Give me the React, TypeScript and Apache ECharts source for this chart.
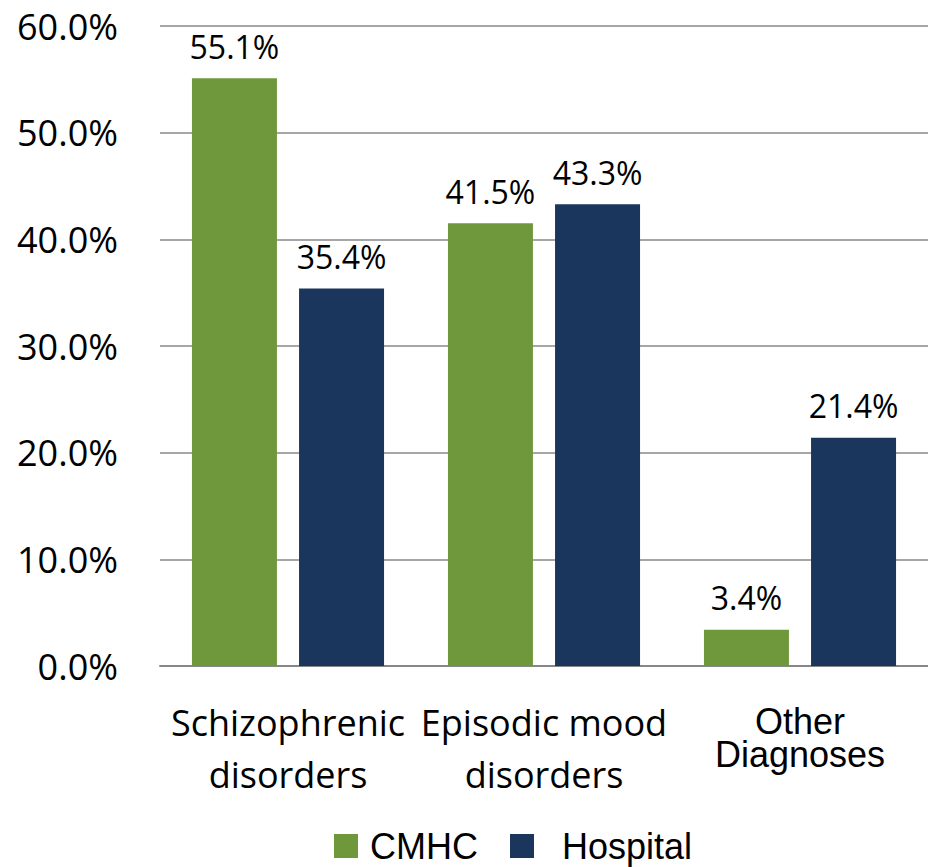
import React, { useEffect, useRef } from "react";
import * as echarts from "echarts";

const categories = ["Schizophrenic disorders", "Episodic mood disorders", "Other Diagnoses"];
const cmhcValues = [55.1, 41.5, 3.4];
const hospitalValues = [35.4, 43.3, 21.4];
const seriesNames = ["CMHC", "Hospital"];
const yTicks = { min: 0, max: 60, interval: 10 };

const GREEN = "#6f973b";
const NAVY = "#1a365c";
const CAL = "'Open Sans', 'Noto Sans', sans-serif";
const ARIAL = "'Liberation Sans', Arial, sans-serif";

export default function App() {
  const ref = useRef<HTMLDivElement>(null);
  useEffect(() => {
    if (!ref.current) return;
    const chart = echarts.init(ref.current, null, { renderer: "svg" });
    const labelStyle = {
      show: true,
      position: "top",
      distance: 16,
      fontFamily: CAL,
      fontSize: 32,
      color: "#000",
      formatter: (p: any) => p.value.toFixed(1) + "%",
    };
    chart.setOption({
      animation: false,
      backgroundColor: "#fff",
      grid: { left: 160, right: 0, top: 26, bottom: 201, containLabel: false },
      legend: {
        left: 334,
        top: 828,
        padding: 0,
        itemWidth: 24,
        itemHeight: 24,
        itemGap: 32,
        icon: "rect",
        data: seriesNames,
        formatter: (name: string) => (name === "CMHC" ? "{c|" + name + "}" : "{h|" + name + "}"),
        textStyle: {
          fontFamily: ARIAL,
          fontSize: 36,
          color: "#000",
          rich: {
            c: { fontFamily: ARIAL, fontSize: 36, color: "#000", padding: [0, 0, 0, 7] },
            h: { fontFamily: ARIAL, fontSize: 36, color: "#000", padding: [0, 0, 0, 23] },
          },
        },
      },
      xAxis: {
        type: "category",
        data: categories,
        axisLine: { show: true, lineStyle: { color: "#878787", width: 2 } },
        axisTick: { show: false },
        axisLabel: {
          margin: 30,
          interval: 0,
          formatter: (v: string) => {
            if (v === "Other Diagnoses") return "{e| }\n{o|Other}\n{o|Diagnoses}";
            const i = v.lastIndexOf(" ");
            return "{a|" + v.slice(0, i) + "}\n{a|" + v.slice(i + 1) + "}";
          },
          rich: {
            a: { fontFamily: CAL, fontSize: 36, lineHeight: 52, color: "#000" },
            e: { fontFamily: ARIAL, fontSize: 8, lineHeight: 9, color: "#000" },
            o: { fontFamily: ARIAL, fontSize: 36, lineHeight: 33, color: "#000" },
          },
        },
      },
      yAxis: {
        type: "value",
        min: yTicks.min,
        max: yTicks.max,
        interval: yTicks.interval,
        axisLine: { show: false },
        axisTick: { show: false },
        splitLine: { lineStyle: { color: "#a6a6a6", width: 2 } },
        axisLabel: {
          margin: 42,
          fontFamily: CAL,
          fontSize: 36,
          color: "#000",
          formatter: (v: number) => v.toFixed(1) + "%",
        },
      },
      series: [
        {
          name: seriesNames[0],
          type: "bar",
          data: cmhcValues,
          barWidth: 85,
          barGap: "26%",
          itemStyle: { color: GREEN },
          label: labelStyle,
        },
        {
          name: seriesNames[1],
          type: "bar",
          data: hospitalValues,
          barWidth: 85,
          barGap: "26%",
          itemStyle: { color: NAVY },
          label: labelStyle,
        },
      ],
    });
    return () => chart.dispose();
  }, []);
  return <div ref={ref} style={{ width: 928, height: 867, position: "absolute", left: 0, top: 0 }} />;
}
